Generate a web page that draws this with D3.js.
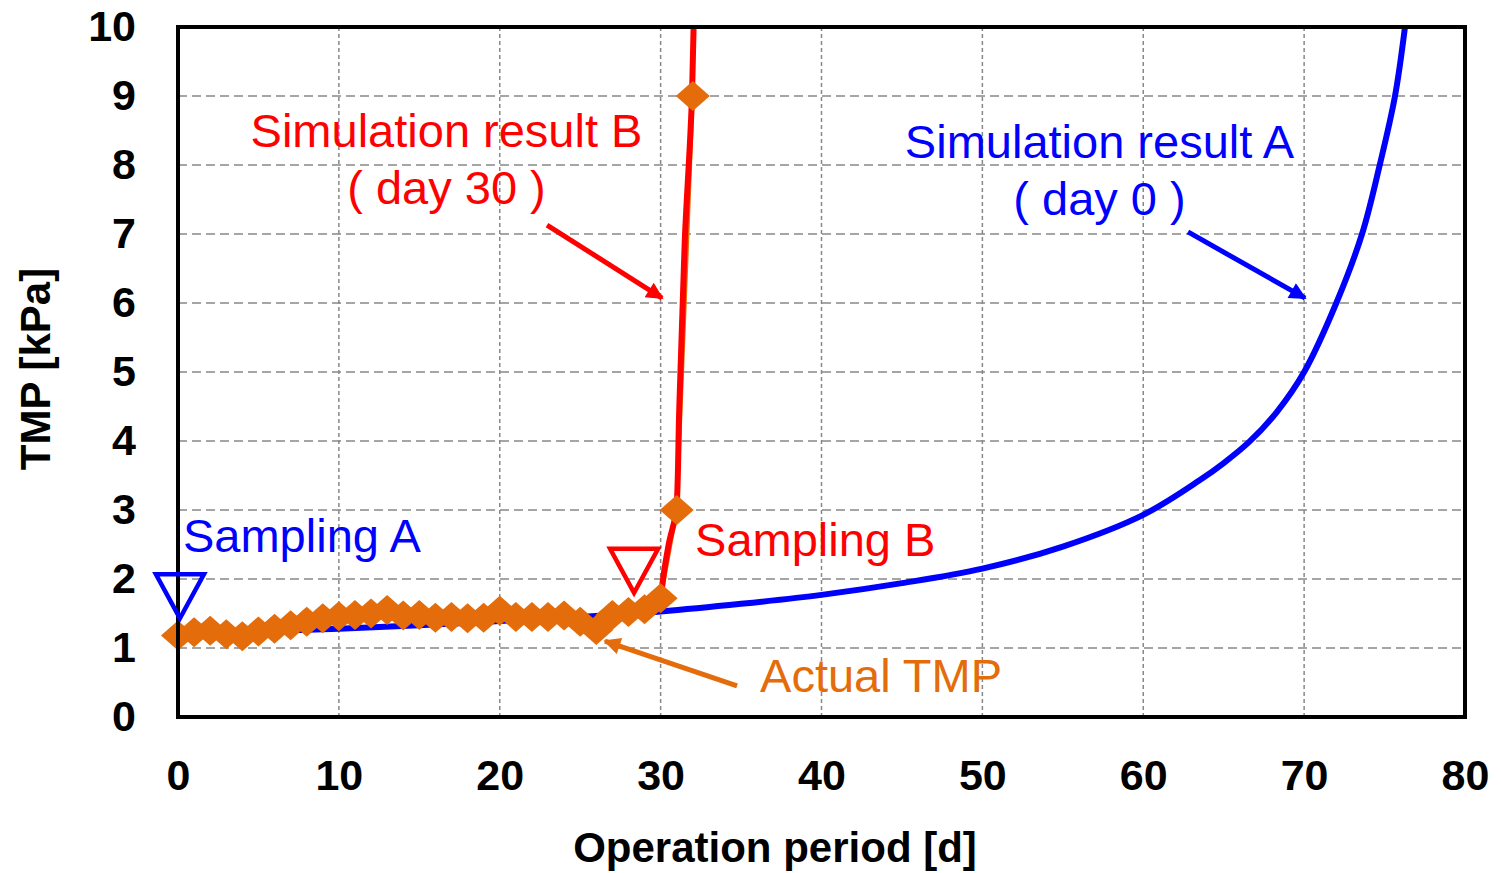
<!DOCTYPE html>
<html>
<head>
<meta charset="utf-8">
<script src="https://cdn.jsdelivr.net/npm/d3@7"></script>
<style>
  body { margin: 0; background: #fff; }
  svg { display: block; font-family: "Liberation Sans", Arial, sans-serif; }
</style>
</head>
<body>
<div id="chart"></div>
<script>
// data
const xTicks = [0, 10, 20, 30, 40, 50, 60, 70, 80];
const yTicks = [0, 1, 2, 3, 4, 5, 6, 7, 8, 9, 10];

// actual TMP, one value per day
const actualDays = d3.range(0, 33);
const actualTmp = [1.18, 1.23, 1.25, 1.20, 1.17, 1.24, 1.28, 1.33, 1.38, 1.43,
    1.46, 1.48, 1.50, 1.55, 1.47, 1.48, 1.44, 1.45, 1.43, 1.44,
    1.54, 1.45, 1.45, 1.45, 1.47, 1.38, 1.26, 1.48, 1.52, 1.56,
    1.72, 3.0, 9.0];

// simulation A (from day 0)
const simADays = [0, 5, 10, 15, 20, 25, 30, 35, 40, 45, 50, 55, 60, 63.5, 65, 66.6, 68.3, 70, 72, 73.6, 74.7, 75.65, 76.27];
const simATmp = [1.20, 1.24, 1.28, 1.33, 1.39, 1.45, 1.53, 1.64, 1.77, 1.94, 2.15, 2.47, 2.93, 3.43, 3.68, 3.99, 4.42, 5.0, 6.0, 7.0, 8.0, 9.0, 10.0];

// simulation B (from day 30)
const simBDays = [30.0, 30.1, 30.5, 31.0, 31.15, 31.5, 31.95, 32.05];
const simBTmp = [1.60, 1.90, 2.50, 3.05, 4.40, 6.90, 9.0, 10.0];

// formatting constants
const width = 1501;
const height = 873;
const margin = {top: 27, bottom: 156, left: 178, right: 36};
const blue = "#0000ff";
const red = "#ff0000";
const orange = "#e46c0a";

const svg = d3.select("#chart")
    .append("svg")
        .attr("width", width)
        .attr("height", height);

const x = d3.scaleLinear()
    .domain([0, 80])
    .range([margin.left, width - margin.right]);

const y = d3.scaleLinear()
    .domain([0, 10])
    .range([height - margin.bottom, margin.top]);

// clip to plot area
svg.append("clipPath")
    .attr("id", "plot")
    .append("rect")
        .attr("x", x(0))
        .attr("y", y(10))
        .attr("width", x(80) - x(0))
        .attr("height", y(0) - y(10));

// grid
svg.append("g")
    .selectAll("line")
    .data(yTicks.slice(1, -1))
    .join("line")
        .attr("x1", x(0))
        .attr("x2", x(80))
        .attr("y1", it => y(it))
        .attr("y2", it => y(it))
        .attr("stroke", "#888")
        .attr("stroke-width", 1.5)
        .attr("stroke-dasharray", "9,5");

svg.append("g")
    .selectAll("line")
    .data(xTicks.slice(1, -1))
    .join("line")
        .attr("x1", it => x(it))
        .attr("x2", it => x(it))
        .attr("y1", y(0))
        .attr("y2", y(10))
        .attr("stroke", "#888")
        .attr("stroke-width", 1.5)
        .attr("stroke-dasharray", "4,3");

// axes
const yAxis = svg.append("g")
    .attr("transform", `translate(${x(0)}, 0)`)
    .call(d3.axisLeft(y).tickValues(yTicks).tickSize(0).tickPadding(42));

const xAxis = svg.append("g")
    .attr("transform", `translate(0, ${y(0)})`)
    .call(d3.axisBottom(x).tickValues(xTicks).tickSize(0).tickPadding(42));

[xAxis, yAxis].forEach(axis => {
    axis.select(".domain").remove();
    axis.selectAll("text")
        .attr("font-family", "Liberation Sans, Arial, sans-serif")
        .attr("font-size", 43)
        .attr("font-weight", "bold")
        .attr("fill", "#000");
});

// axis titles
svg.append("text")
    .attr("x", 775)
    .attr("y", 862)
    .attr("text-anchor", "middle")
    .attr("font-size", 42)
    .attr("font-weight", "bold")
    .text("Operation period [d]");

svg.append("text")
    .attr("transform", "translate(50, 369) rotate(-90)")
    .attr("text-anchor", "middle")
    .attr("font-size", 42)
    .attr("font-weight", "bold")
    .text("TMP [kPa]");

// lines
const line = d3.line()
    .x(it => x(it[0]))
    .y(it => y(it[1]));

const plot = svg.append("g").attr("clip-path", "url(#plot)");

plot.append("path")
    .datum(d3.zip(simADays, simATmp))
    .attr("d", line.curve(d3.curveCatmullRom.alpha(0.5)))
    .attr("fill", "none")
    .attr("stroke", blue)
    .attr("stroke-width", 6);

plot.append("path")
    .datum(d3.zip(actualDays, actualTmp))
    .attr("d", line.curve(d3.curveLinear))
    .attr("fill", "none")
    .attr("stroke", orange)
    .attr("stroke-width", 4);

plot.append("path")
    .datum(d3.zip(simBDays, simBTmp))
    .attr("d", line.curve(d3.curveMonotoneY))
    .attr("fill", "none")
    .attr("stroke", red)
    .attr("stroke-width", 6);

// diamonds
svg.append("g")
    .selectAll("path")
    .data(d3.zip(actualDays, actualTmp))
    .join("path")
        .attr("transform", it => `translate(${x(it[0])}, ${y(it[1])})`)
        .attr("d", "M0,-15L17,0L0,15L-17,0Z")
        .attr("fill", orange);

// frame
svg.append("rect")
    .attr("x", x(0))
    .attr("y", y(10))
    .attr("width", x(80) - x(0))
    .attr("height", y(0) - y(10))
    .attr("fill", "none")
    .attr("stroke", "#000")
    .attr("stroke-width", 4);

// sampling triangles
function triangle(day, value, color) {
    const tx = x(day), ty = y(value);
    svg.append("path")
        .attr("d", `M${tx},${ty}L${tx - 24},${ty - 44}L${tx + 24},${ty - 44}Z`)
        .attr("fill", "none")
        .attr("stroke", color)
        .attr("stroke-width", 4.5)
        .attr("stroke-linejoin", "miter");
}
triangle(0.12, 1.43, blue);
triangle(28.35, 1.80, red);

// arrows
const defs = svg.append("defs");
[["blue", blue], ["red", red], ["orange", orange]].forEach(([name, color]) => {
    defs.append("marker")
        .attr("id", `arrow-${name}`)
        .attr("viewBox", "0 0 10 10")
        .attr("refX", 9)
        .attr("refY", 5)
        .attr("markerUnits", "userSpaceOnUse")
        .attr("markerWidth", 20)
        .attr("markerHeight", 17)
        .attr("orient", "auto")
        .append("path")
            .attr("d", "M0,0L10,5L0,10Z")
            .attr("fill", color);
});

function arrow(x1, y1, x2, y2, name, color) {
    svg.append("line")
        .attr("x1", x(x1))
        .attr("y1", y(y1))
        .attr("x2", x(x2))
        .attr("y2", y(y2))
        .attr("stroke", color)
        .attr("stroke-width", 5)
        .attr("marker-end", `url(#arrow-${name})`);
}
arrow(22.94, 7.13, 30.09, 6.07, "red", red);
arrow(62.78, 7.03, 70.06, 6.07, "blue", blue);
arrow(34.75, 0.45, 26.54, 1.10, "orange", orange);

// labels
function label(lines, day, value, color, anchor) {
    const t = svg.append("text")
        .attr("x", x(day))
        .attr("y", y(value))
        .attr("text-anchor", anchor)
        .attr("font-size", 47)
        .attr("fill", color);
    lines.forEach((it, i) => {
        t.append("tspan")
            .attr("x", x(day))
            .attr("dy", i === 0 ? 0 : 57)
            .text(it);
    });
}
label(["Simulation result B", "( day 30 )"], 16.69, 8.26, red, "middle");
label(["Simulation result A", "( day 0 )"], 57.28, 8.1, blue, "middle");
label(["Sampling A"], 0.31, 2.39, blue, "start");
label(["Sampling B"], 32.14, 2.33, red, "start");
label(["Actual TMP"], 36.18, 0.36, orange, "start");
</script>
</body>
</html>
